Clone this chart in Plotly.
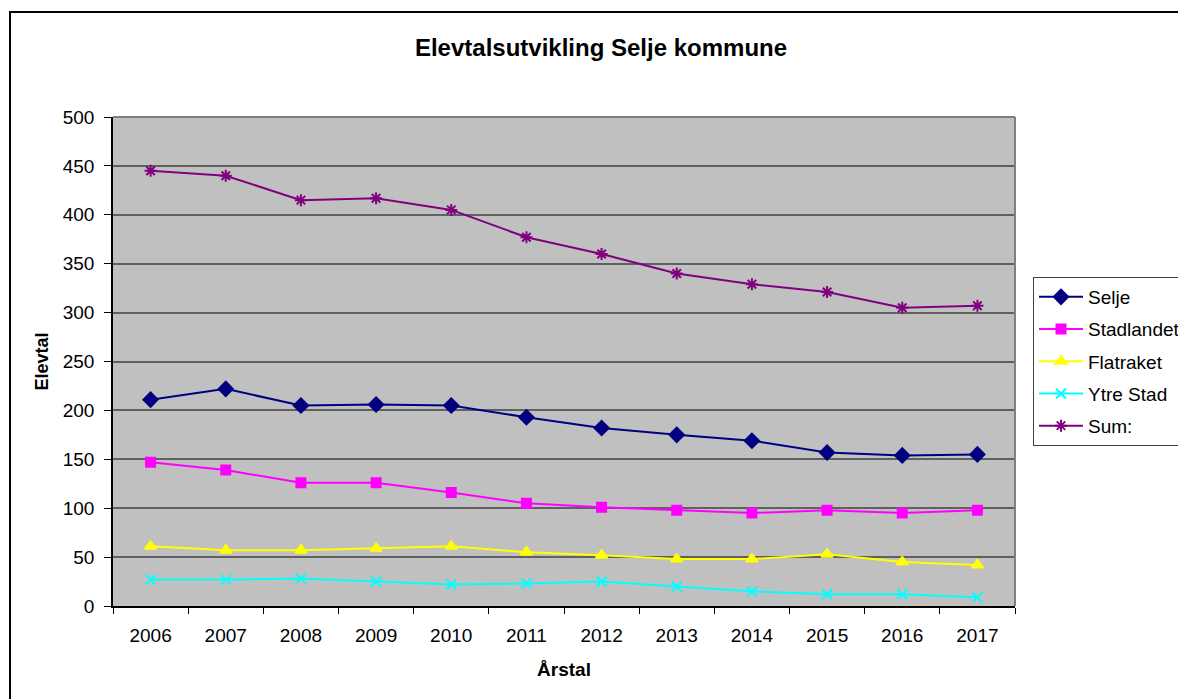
import plotly.graph_objects as go

years = ["2006", "2007", "2008", "2009", "2010", "2011", "2012", "2013", "2014", "2015", "2016", "2017"]
selje = [211, 222, 205, 206, 205, 193, 182, 175, 169, 157, 154, 155]
stadlandet = [147, 139, 126, 126, 116, 105, 101, 98, 95, 98, 95, 98]
flatraket = [61, 57, 57, 59, 61, 55, 52, 48, 48, 53, 45, 42]
ytre_stad = [27, 27, 28, 25, 22, 23, 25, 20, 15, 12, 12, 9]
sum_total = [445, 440, 415, 417, 405, 377, 360, 340, 329, 321, 305, 307]

series = [
    ("Selje", selje, "#000080", "diamond", 11),
    ("Stadlandet", stadlandet, "#FF00FF", "square", 9),
    ("Flatraket", flatraket, "#FFFF00", "triangle-up", 10),
    ("Ytre Stad", ytre_stad, "#00FFFF", "x-thin-open", 10),
    ("Sum:", sum_total, "#800080", "asterisk-open", 10),
]

fig = go.Figure()
for name, vals, color, sym, size in series:
    fig.add_trace(go.Scatter(
        x=years, y=vals, name=name, mode="lines+markers", legendgroup=name,
        line=dict(color=color, width=2),
        marker=dict(symbol=sym, size=size, color=color,
                    line=dict(color=color, width=2)),
    ))

L, R, T, B = 113, 1015, 117, 606
W, H = 1178, 699
pw, ph = R - L, B - T

def px(x):
    return (x - L) / pw

def py(y):
    return (B - y) / ph

FONT = "Arial, Liberation Sans, sans-serif"

fig.update_layout(
    width=W, height=H,
    margin=dict(l=L, r=W - R, t=T, b=H - B, autoexpand=False),
    paper_bgcolor="white",
    plot_bgcolor="#C0C0C0",
    font=dict(family=FONT, size=19, color="black"),
    title=dict(text="<b>Elevtalsutvikling Selje kommune</b>", x=px(601), xref="paper",
               xanchor="center", y=1 - 48 / H, yanchor="middle",
               font=dict(size=24)),
    showlegend=True,
    legend=dict(x=px(1033), y=py(277), xanchor="left", yanchor="top",
                bgcolor="white", bordercolor="#404040", borderwidth=1,
                font=dict(size=19), tracegroupgap=4.5, itemwidth=44),
    xaxis=dict(
        type="category", tickson="boundaries", ticks="outside", ticklen=6,
        tickcolor="black", showline=True, linecolor="black", linewidth=1.5,
        showgrid=False, mirror=False, range=[-0.5, 11.5],
        ticklabelstandoff=11,
        title=dict(text="<b>Årstal</b>", font=dict(size=19), standoff=18),
        tickfont=dict(size=19),
    ),
    yaxis=dict(
        range=[0, 500], dtick=50, ticks="outside", ticklen=7, tickcolor="black",
        showline=True, linecolor="black", linewidth=1.5,
        showgrid=True, gridcolor="#606060", gridwidth=1.5, zeroline=False,
        ticklabelstandoff=6,
        title=dict(text="<b>Elevtal</b>", font=dict(size=18), standoff=9),
        tickfont=dict(size=19),
    ),
)

# plot area top/right border (gray) and outer chart frame
fig.add_shape(type="line", xref="paper", yref="paper", x0=0, x1=1, y0=1, y1=1,
              line=dict(color="#808080", width=2))
fig.add_shape(type="line", xref="paper", yref="paper", x0=1, x1=1, y0=0, y1=1,
              line=dict(color="#808080", width=2))
fig.add_shape(type="rect", xref="paper", yref="paper",
              x0=px(10), x1=px(1200), y0=py(720), y1=py(12),
              line=dict(color="black", width=2), fillcolor="rgba(0,0,0,0)")

fig.write_html("out.html", config={"displayModeBar": False},
               post_script="document.body.style.margin='0';document.body.style.overflow='hidden';")
